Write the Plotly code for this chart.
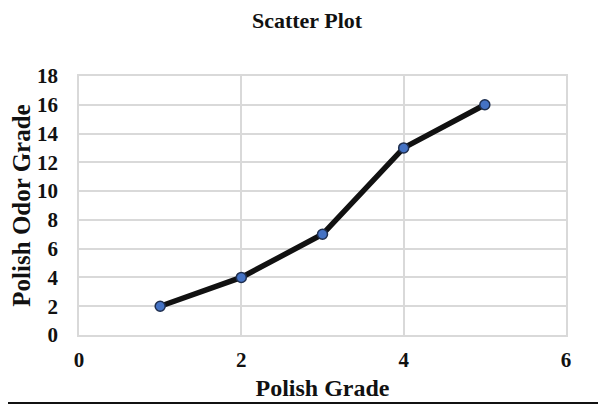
import plotly.graph_objects as go

x_vals = [1, 2, 3, 4, 5]
y_vals = [2, 4, 7, 13, 16]
x_ticks = [0, 2, 4, 6]
y_ticks = [0, 2, 4, 6, 8, 10, 12, 14, 16, 18]

font_family = "Liberation Serif"

fig = go.Figure()
fig.add_trace(go.Scatter(
    x=x_vals, y=y_vals, mode="lines+markers",
    line=dict(color="#111111", width=5.5),
    marker=dict(size=10, color="#4472C4", line=dict(color="#1F2F4F", width=1.5)),
    showlegend=False,
))

# page body has an 8px offset; figure is sized to fill the rest of the window
OFF = 8
W, H = 606 - OFF, 405 - OFF
l, r, t, b = 79 - OFF, 40, 76 - OFF, 70
pw, ph = W - l - r, H - t - b

fig.update_layout(
    width=W, height=H,
    margin=dict(l=l, r=r, t=t, b=b, autoexpand=False),
    paper_bgcolor="white", plot_bgcolor="white",
    title=dict(text="<b>Scatter Plot</b>", x=0.5, xanchor="center", y=1 - (20 - OFF) / H, yanchor="middle",
               font=dict(family=font_family, size=22, color="#111111")),
    xaxis=dict(range=[0, 6], tickvals=x_ticks, ticktext=[f"<b>{v}</b>" for v in x_ticks],
               automargin=False,
               showgrid=True, gridcolor="#D9D9D9", gridwidth=1.5, zeroline=False,
               showline=True, linecolor="#D9D9D9", linewidth=1.5, mirror=True,
               ticks="outside", ticklen=5, tickcolor="rgba(0,0,0,0)",
               tickfont=dict(family=font_family, size=21, color="#111111"),
               title=dict(text="<b>Polish Grade</b>", standoff=8,
                          font=dict(family=font_family, size=24, color="#111111"))),
    yaxis=dict(range=[0, 18], tickvals=y_ticks, ticktext=[f"<b>{v}</b>" for v in y_ticks],
               automargin=False,
               showgrid=True, gridcolor="#D9D9D9", gridwidth=1.5, zeroline=False,
               showline=True, linecolor="#D9D9D9", linewidth=1.5, mirror=True,
               ticks="outside", ticklen=15, tickcolor="rgba(0,0,0,0)",
               tickfont=dict(family=font_family, size=21, color="#111111"),
               title=dict(text="<b>Polish Odor Grade</b>", standoff=9,
                          font=dict(family=font_family, size=25, color="#111111"))),
)

line_y = -(H - 2 - t - ph) / ph
fig.add_shape(type="line", xref="paper", yref="paper",
              x0=-l / pw, x1=(W - l) / pw, y0=line_y, y1=line_y,
              line=dict(color="#111111", width=2))

fig.write_html("out.html")
